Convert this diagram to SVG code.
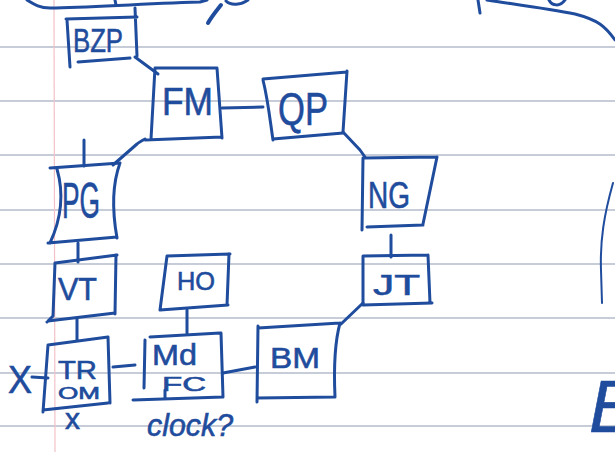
<svg xmlns="http://www.w3.org/2000/svg" width="615" height="452" viewBox="0 0 615 452">
<style>
.rule{stroke:#b3bccc;stroke-width:1.4;fill:none}
.margin{stroke:#f2c2c8;stroke-width:1.2;fill:none}
.ink{stroke:#1f4c9c;stroke-width:3;fill:none;stroke-linecap:round;stroke-linejoin:round}
.t{font-family:"Liberation Sans",Arial,sans-serif;fill:#1f4c9c;stroke:#1f4c9c;stroke-width:0.6}
</style>
<rect width="615" height="452" fill="#ffffff"/>
<g id="paper">
<line class="rule" x1="0" y1="47" x2="615" y2="47"/>
<line class="rule" x1="0" y1="101" x2="615" y2="101"/>
<line class="rule" x1="0" y1="155" x2="615" y2="155"/>
<line class="rule" x1="0" y1="210" x2="615" y2="210"/>
<line class="rule" x1="0" y1="264" x2="615" y2="264"/>
<line class="rule" x1="0" y1="318" x2="615" y2="318"/>
<line class="rule" x1="0" y1="373" x2="615" y2="373"/>
<line class="rule" x1="0" y1="426" x2="615" y2="426"/>
<line class="margin" x1="54" y1="0" x2="55" y2="452"/>
</g>
<g id="scribbles">
<path class="ink" d="M27,0 C35,5 40,8 50,8 C90,8 130,4 200,2 L207,0"/>
<path class="ink" d="M115,0 L116,5"/>
<path class="ink" d="M208,23 C212,16 217,10 221,5" style="stroke-width:4"/>
<path class="ink" d="M226,1 C231,6 241,5 248,0"/>
<path class="ink" d="M478,0 L480,13"/>
<path class="ink" d="M549,0 C552,6 560,7 565,0"/>
<path class="ink" d="M487,0 C520,5 550,9 575,14 C598,20 605,26 615,40"/>
<path class="ink" d="M613,183 C604,215 600,240 601,270 L602,303" style="stroke-width:2"/>
<text class="t" x="589" y="432" font-size="74" font-style="italic">B</text>
</g>
<g id="connectors">
<path class="ink" d="M135,57 L158,74"/>
<path class="ink" d="M222,108 L263,107"/>
<path class="ink" d="M343,132 L360,150 L365,157"/>
<path class="ink" d="M391,235 L391,257"/>
<path class="ink" d="M363,303 L341,324"/>
<path class="ink" d="M145,139 C141,141 139,142 137,144 L113,165"/>
<path class="ink" d="M84,140 L84,166"/>
<path class="ink" d="M78,243 L78,262"/>
<path class="ink" d="M77,318 L77,340"/>
<path class="ink" d="M113,367 L135,365"/>
<path class="ink" d="M187,310 L187,333"/>
<path class="ink" d="M223,373 L255,367"/>
<path class="ink" d="M32,377 L48,378"/>
</g>
<g id="BZP">
<path class="ink" d="M66,19 L137,17 M67,20 L70,67 M135,8 L137,56 M78,62 L130,58"/>
<text class="t" x="73" y="52" font-size="34" textLength="50" lengthAdjust="spacingAndGlyphs">BZP</text>
</g>
<g id="FM">
<path class="ink" d="M155,68 L217,68 M155,68 L151,139 M217,68 L222,138 M145,140 L222,137"/>
<text class="t" x="162" y="115" font-size="38" textLength="51" lengthAdjust="spacingAndGlyphs">FM</text>
</g>
<g id="QP">
<path class="ink" d="M263,79 L347,72 M263,80 C268,100 270,120 273,140 M347,71 L343,132 M273,139 L343,133"/>
<text class="t" x="278" y="125" font-size="46" textLength="50" lengthAdjust="spacingAndGlyphs">QP</text>
</g>
<g id="NG">
<path class="ink" d="M363,158 L437,157 M363,158 L362,230 M437,157 L423,224 M367,227 L423,225"/>
<text class="t" x="368" y="208" font-size="36" textLength="42" lengthAdjust="spacingAndGlyphs">NG</text>
</g>
<g id="JT">
<path class="ink" d="M363,256 L428,255 M363,256 L363,305 M428,255 L430,303 M363,305 L432,303"/>
<text class="t" x="373" y="295" font-size="30" textLength="47" lengthAdjust="spacingAndGlyphs">JT</text>
</g>
<g id="PG">
<path class="ink" d="M50,168 L120,163 M57,169 C63,190 63,215 50,243 M120,163 C112,185 112,210 117,238 M48,243 L117,237"/>
<text class="t" x="62" y="218" font-size="50" textLength="38" lengthAdjust="spacingAndGlyphs">PG</text>
</g>
<g id="VT">
<path class="ink" d="M55,263 L117,255 M55,263 L53,316 L47,322 M116,255 L115,314 M48,321 L115,313"/>
<text class="t" x="58" y="300" font-size="32" textLength="39" lengthAdjust="spacingAndGlyphs">VT</text>
</g>
<g id="TROM">
<path class="ink" d="M48,345 L108,337 M48,345 L43,412 M108,337 L110,403 M43,410 L108,403"/>
<text class="t" x="58" y="379" font-size="26" textLength="39" lengthAdjust="spacingAndGlyphs">TR</text>
<text class="t" x="58" y="399" font-size="16" textLength="42" lengthAdjust="spacingAndGlyphs">OM</text>
<text class="t" x="8" y="393" font-size="38" textLength="24" lengthAdjust="spacingAndGlyphs">X</text>
<text class="t" x="65" y="429" font-size="30" textLength="15" lengthAdjust="spacingAndGlyphs">x</text>
</g>
<g id="HO">
<path class="ink" d="M167,256 L230,254 M167,256 L160,310 M229,254 L227,305 M160,310 L228,305"/>
<text class="t" x="177" y="290" font-size="25" textLength="38" lengthAdjust="spacingAndGlyphs">HO</text>
</g>
<g id="MdFC">
<path class="ink" d="M145,340 L144,388 M150,337 L220,333 M221,333 L223,397 M133,400 L223,397 M165,390 L165,399"/>
<text class="t" x="152" y="365" font-size="30" textLength="45" lengthAdjust="spacingAndGlyphs">Md</text>
<text class="t" x="162" y="391" font-size="20" textLength="44" lengthAdjust="spacingAndGlyphs">FC</text>
<text class="t" x="147" y="436" font-size="32" font-style="italic" textLength="86" lengthAdjust="spacingAndGlyphs">clock?</text>
</g>
<g id="BM">
<path class="ink" d="M258,328 L340,323 M258,326 L257,402 M340,323 C334,345 334,375 335,397 M257,398 L335,397"/>
<text class="t" x="270" y="368" font-size="30" textLength="50" lengthAdjust="spacingAndGlyphs">BM</text>
</g>
</svg>
